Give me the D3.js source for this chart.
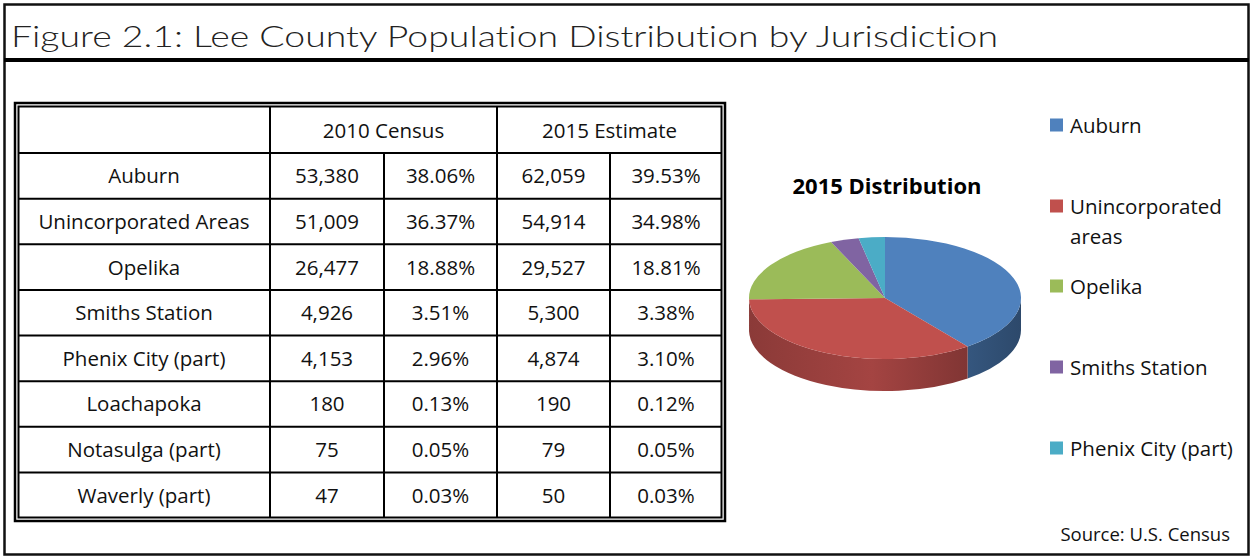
<!DOCTYPE html>
<html><head><meta charset="utf-8">
<script src="https://cdn.jsdelivr.net/npm/d3@7"></script>
<style>
html,body{margin:0;padding:0;background:#fff;}
svg{display:block;}
text{font-variant-ligatures:none;}
</style></head>
<body>
<svg id="chart" width="1253" height="558"></svg>
<script>
// ---- data ----
const titleText = "Figure 2.1: Lee County Population Distribution by Jurisdiction";
const headers = ["2010 Census", "2015 Estimate"];
const jurisdictions = ["Auburn","Unincorporated Areas","Opelika","Smiths Station","Phenix City (part)","Loachapoka","Notasulga (part)","Waverly (part)"];
const census2010 = [53380, 51009, 26477, 4926, 4153, 180, 75, 47];
const pct2010 = [38.06, 36.37, 18.88, 3.51, 2.96, 0.13, 0.05, 0.03];
const estimate2015 = [62059, 54914, 29527, 5300, 4874, 190, 79, 50];
const pct2015 = [39.53, 34.98, 18.81, 3.38, 3.10, 0.12, 0.05, 0.03];
const pieTitle = "2015 Distribution";
const legendLabels = [["Auburn"],["Unincorporated","areas"],["Opelika"],["Smiths Station"],["Phenix City (part)"]];
const pieValues = estimate2015.slice(0, 5);
const pieColors = ["#4f81bd","#c0504d","#9bbb59","#8064a2","#4bacc6"];
const sourceText = "Source: U.S. Census";

const svg = d3.select("#chart");
const fmt = d3.format(",");
const fmtPct = v => v.toFixed(2) + "%";
const tableFont = "'Open Sans', 'Noto Sans', sans-serif";
const fs = 20.5;

// ---- frame ----
svg.append("rect").attr("x",4.5).attr("y",4.5).attr("width",1244).attr("height",550)
  .attr("fill","none").attr("stroke","#111").attr("stroke-width",2.5);
svg.append("line").attr("x1",4).attr("x2",1249).attr("y1",60).attr("y2",60)
  .attr("stroke","#000").attr("stroke-width",4);
svg.append("text").attr("x",11).attr("y",47).text(titleText)
  .attr("font-family","Lato, 'DejaVu Sans', sans-serif").attr("font-weight",300)
  .attr("font-size",30).attr("fill","#222")
  .attr("textLength",987).attr("lengthAdjust","spacingAndGlyphs");

// ---- table ----
const colEdges = [18, 270, 384, 497, 610, 722];
const rowY = d3.scaleBand().domain(d3.range(jurisdictions.length)).range([153, 518]);
const tTop = 106, tBot = 518;
const tg = svg.append("g");
tg.append("rect").attr("x",15).attr("y",103).attr("width",710).attr("height",418)
  .attr("fill","none").attr("stroke","#000").attr("stroke-width",2.5);
tg.append("rect").attr("x",18.5).attr("y",106.5).attr("width",703).attr("height",411)
  .attr("fill","none").attr("stroke","#000").attr("stroke-width",2);
[153, ...d3.range(1, jurisdictions.length).map(i => rowY(i))].forEach(y => {
  tg.append("line").attr("x1",18).attr("x2",722).attr("y1",y).attr("y2",y)
    .attr("stroke","#000").attr("stroke-width",2);
});
[270, 497].forEach(x => tg.append("line").attr("x1",x).attr("x2",x).attr("y1",tTop).attr("y2",tBot).attr("stroke","#000").attr("stroke-width",2));
[384, 610].forEach(x => tg.append("line").attr("x1",x).attr("x2",x).attr("y1",153).attr("y2",tBot).attr("stroke","#000").attr("stroke-width",2));
headers.forEach((h,i) => {
  tg.append("text").attr("x",(colEdges[1+2*i]+colEdges[3+2*i])/2).attr("y",137.5)
    .attr("text-anchor","middle").attr("font-family",tableFont).attr("font-size",fs).attr("fill","#111").text(h);
});
jurisdictions.forEach((j,i) => {
  const cells = [j, fmt(census2010[i]), fmtPct(pct2010[i]), fmt(estimate2015[i]), fmtPct(pct2015[i])];
  cells.forEach((c,k) => {
    tg.append("text").attr("x",(colEdges[k]+colEdges[k+1])/2).attr("y",rowY(i)+rowY.bandwidth()/2+7.5)
      .attr("text-anchor","middle").attr("font-family",tableFont).attr("font-size",fs).attr("fill","#111").text(c);
  });
});

// ---- 3D pie ----
const cx = 885, cy = 298, rx = 136, ry = 61, depth = 32;
const P = (a, h=0) => [cx + rx*Math.sin(a), cy - ry*Math.cos(a) + h];
const pie = d3.pie().sort(null).value(d => d)(pieValues);
const defs = svg.append("defs");
const pg = svg.append("g");
pie.forEach((s,i) => {
  const s0 = Math.max(s.startAngle, Math.PI/2), s1 = Math.min(s.endAngle, 3*Math.PI/2);
  if (s0 >= s1) return;
  const base = d3.color(pieColors[i]);
  const gid = "side"+i;
  const gr = defs.append("linearGradient").attr("id",gid).attr("gradientUnits","userSpaceOnUse")
    .attr("x1",cx-rx).attr("x2",cx+rx).attr("y1",0).attr("y2",0);
  gr.append("stop").attr("offset","0%").attr("stop-color",base.darker(0.9));
  gr.append("stop").attr("offset","45%").attr("stop-color",base.darker(0.45));
  gr.append("stop").attr("offset","100%").attr("stop-color",base.darker(1.6));
  const a = P(s0), b = P(s1), c = P(s1, depth), d = P(s0, depth);
  pg.append("path")
    .attr("d", `M${a} A${rx},${ry} 0 0 1 ${b} L${c} A${rx},${ry} 0 0 0 ${d} Z`)
    .attr("fill", `url(#${gid})`);
});
pie.forEach((s,i) => {
  const a = P(s.startAngle), b = P(s.endAngle);
  const large = (s.endAngle - s.startAngle) > Math.PI ? 1 : 0;
  pg.append("path")
    .attr("d", `M${cx},${cy} L${a} A${rx},${ry} 0 ${large} 1 ${b} Z`)
    .attr("fill", pieColors[i]);
});
svg.append("text").attr("x",887).attr("y",194).attr("text-anchor","middle")
  .attr("font-family",tableFont).attr("font-weight",700).attr("font-size",22).attr("fill","#000").text(pieTitle);

// ---- legend ----
const legendY = [125, 206, 286, 367, 448];
legendLabels.forEach((lines,i) => {
  svg.append("rect").attr("x",1050).attr("y",legendY[i]-6.5).attr("width",13).attr("height",13).attr("fill",pieColors[i]);
  lines.forEach((t,k) => {
    svg.append("text").attr("x",1070).attr("y",legendY[i]+7.5+k*30)
      .attr("font-family",tableFont).attr("font-size",fs).attr("fill","#111").text(t);
  });
});
svg.append("text").attr("x",1230).attr("y",541).attr("text-anchor","end")
  .attr("font-family",tableFont).attr("font-size",18.5).attr("fill","#111").text(sourceText);
</script>
</body></html>
